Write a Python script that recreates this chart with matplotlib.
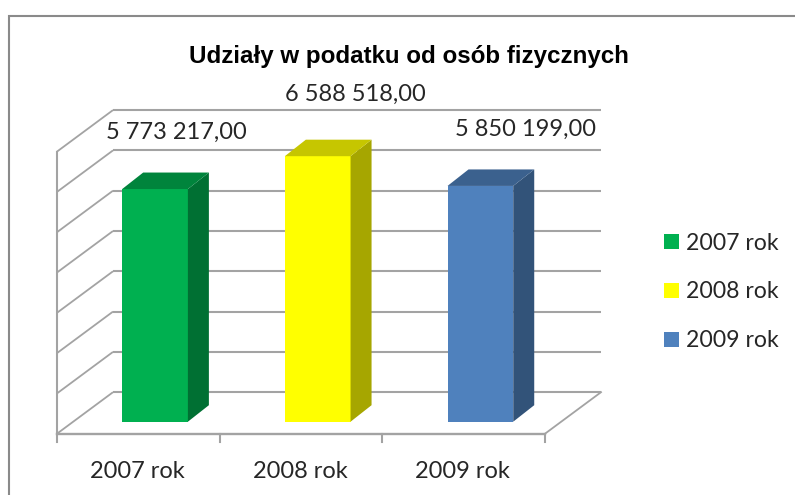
import matplotlib
matplotlib.use("Agg")
import matplotlib.pyplot as plt
from matplotlib.lines import Line2D
from matplotlib.patches import Polygon, Patch

title = "Udziały w podatku od osób fizycznych"
categories = ["2007 rok", "2008 rok", "2009 rok"]
values = [5773217.00, 6588518.00, 5850199.00]
value_labels = ["5 773 217,00", "6 588 518,00", "5 850 199,00"]
gridlines = [0, 1e6, 2e6, 3e6, 4e6, 5e6, 6e6, 7e6]
front = ["#00B050", "#FFFF00", "#4F81BD"]
side = ["#007033", "#A6A600", "#325379"]
top = ["#00843C", "#C6C600", "#3B618E"]
label_offsets = [(54, 57), (71, 62), (77.5, 56.5)]

W, H = 795, 495
fig = plt.figure(figsize=(W / 100, H / 100), dpi=100, facecolor="white")

# Axes spanning the whole figure; pixels map linearly to data
PX_X0, PX_UNIT = 57.0, 162.67
PX_Y0, PX_VAL = 421.7, 40.3 / 1e6
ax = fig.add_axes([0, 0, 1, 1])
ax.set_xlim(-PX_X0 / PX_UNIT, (W - PX_X0) / PX_UNIT)
ax.set_ylim(-(H - PX_Y0) / PX_VAL, PX_Y0 / PX_VAL)
ax.axis("off")


def dx(px):
    return px / PX_UNIT


def dy(px):
    return px / PX_VAL


GRID = "#A3A3A3"
LW = 1.3
front_floor = -dy(12.0)   # front edge of floor relative to the bars' plane
depth_x, depth_y = dx(56), dy(41.5)
x_end = 3.0

for g in gridlines:
    yf = front_floor + g
    yb = yf + depth_y
    ax.plot([0, depth_x], [yf, yb], color=GRID, lw=LW, solid_capstyle="butt", zorder=1)
    ax.plot([depth_x, x_end + depth_x], [yb, yb], color=GRID, lw=LW + 0.2, solid_capstyle="butt", zorder=1)
ax.plot([0, 0], [front_floor, front_floor + gridlines[-1]], color=GRID, lw=LW + 0.2, zorder=1)
ax.plot([0, x_end], [front_floor, front_floor], color=GRID, lw=LW + 0.4, zorder=1)
ax.plot([x_end, x_end + depth_x], [front_floor, front_floor + depth_y], color=GRID, lw=LW, zorder=1)
for i in range(len(categories) + 1):
    ax.plot([i, i], [front_floor, front_floor - dy(8)], color=GRID, lw=LW + 0.2, zorder=1)

bar_w = dx(65.7)
bar_dx, bar_dy = dx(21), dy(16.5)
lefts = [i + 0.5 - bar_w / 2 + dx(16.7) for i in range(len(values))]
ax.bar(lefts, values, width=bar_w, align="edge", color=front, zorder=3, linewidth=0)
for l, v, s, t in zip(lefts, values, side, top):
    r = l + bar_w
    ax.add_patch(Polygon([(r, 0), (r + bar_dx, bar_dy), (r + bar_dx, v + bar_dy), (r, v)],
                         closed=True, facecolor=s, edgecolor="none", zorder=3))
    ax.add_patch(Polygon([(l, v), (l + bar_dx, v + bar_dy), (r + bar_dx, v + bar_dy), (r, v)],
                         closed=True, facecolor=t, edgecolor="none", zorder=3))

TEXT = "#262626"
FS = 17
FONT = "Lato"
for l, v, lab, off in zip(lefts, values, value_labels, label_offsets):
    ax.annotate(lab, xy=(l, v), xytext=(off[0] * 0.72, off[1] * 0.72), textcoords="offset points",
                ha="center", va="center", fontsize=FS, color=TEXT, family=FONT, zorder=5)

for i, c in enumerate(categories):
    ax.text(i + dx(80.5), front_floor - dy(38), c, ha="center", va="center", fontsize=FS, color=TEXT, family=FONT)

fig.text(409 / W, 1 - 56 / H, title, ha="center", va="center", fontsize=17.4,
         fontweight="bold", family="Liberation Sans", color="black")

handles = [Patch(facecolor=c, edgecolor="none") for c in front]
fig.legend(handles, categories, loc="center left", bbox_to_anchor=(664 / W, 1 - 292 / H),
           frameon=False, labelcolor=TEXT, prop={"family": FONT, "size": 16.6},
           handlelength=0.63, handleheight=0.63, handletextpad=0.33, labelspacing=1.2, borderpad=0, borderaxespad=0)

# Outer frame, running off the image at right and bottom
fig.add_artist(Line2D([9 / W, 9 / W, 1], [0, 1 - 16 / H, 1 - 16 / H], color="#8A8A8A", lw=1.5,
                      transform=fig.transFigure, solid_joinstyle="miter"))

fig.savefig("out.png", dpi=100)
